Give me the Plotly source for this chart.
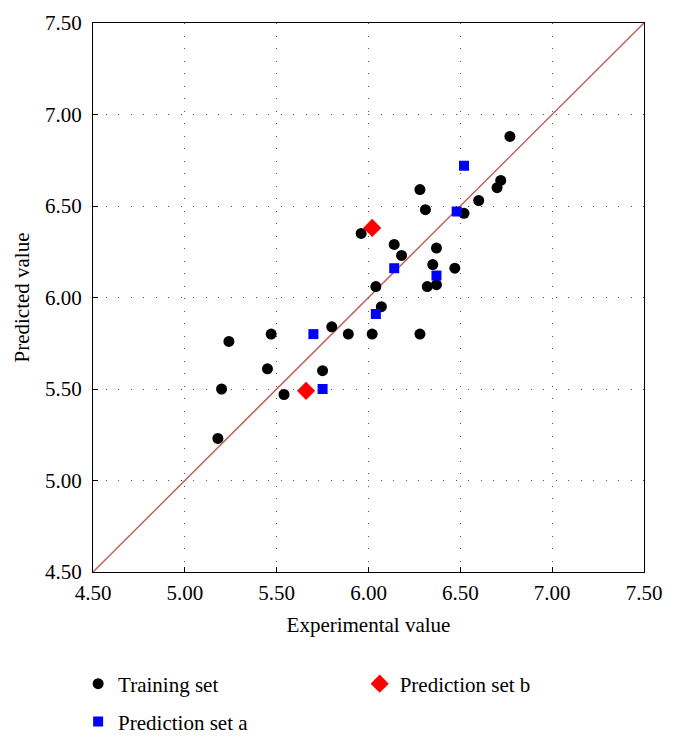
import plotly.graph_objects as go

# values
train_x = [5.18, 5.20, 5.24, 5.45, 5.47, 5.54, 5.75, 5.80, 5.89, 6.02, 6.04, 6.07, 5.96, 6.14,
           6.18, 6.28, 6.28, 6.31, 6.32, 6.35, 6.37, 6.37, 6.47, 6.52, 6.60, 6.70, 6.72, 6.77]
train_y = [5.23, 5.50, 5.76, 5.61, 5.80, 5.47, 5.60, 5.84, 5.80, 5.80, 6.06, 5.95, 6.35, 6.29,
           6.23, 5.80, 6.59, 6.48, 6.06, 6.18, 6.07, 6.27, 6.16, 6.46, 6.53, 6.60, 6.64, 6.88]

pred_a_x = [5.70, 5.75, 6.04, 6.14, 6.37, 6.48, 6.52]
pred_a_y = [5.80, 5.50, 5.91, 6.16, 6.12, 6.47, 6.72]

pred_b_x = [5.66, 6.02]
pred_b_y = [5.49, 6.38]

axis_range = [4.5, 7.5]
tick_vals = [4.5, 5.0, 5.5, 6.0, 6.5, 7.0, 7.5]
tick_text = ["4.50", "5.00", "5.50", "6.00", "6.50", "7.00", "7.50"]

serif = "Liberation Serif"

fig = go.Figure()

# y = x reference line
fig.add_trace(go.Scatter(x=axis_range, y=axis_range, mode="lines",
                         line=dict(color="#c0645a", width=1.5), showlegend=False, hoverinfo="skip"))

fig.add_trace(go.Scatter(x=train_x, y=train_y, mode="markers", name="Training set",
                         marker=dict(symbol="circle", size=11, color="black"), legend="legend"))
fig.add_trace(go.Scatter(x=pred_b_x, y=pred_b_y, mode="markers", name="Prediction set b",
                         marker=dict(symbol="diamond", size=14, color="#ff0000"), legend="legend3"))
fig.add_trace(go.Scatter(x=pred_a_x, y=pred_a_y, mode="markers", name="Prediction set a",
                         marker=dict(symbol="square", size=10, color="#0000ff"), legend="legend2"))

axis_common = dict(
    range=axis_range, tickvals=tick_vals, ticktext=tick_text,
    showgrid=True, gridcolor="#555555", griddash="1px,11.5px", gridwidth=1,
    showline=True, linecolor="black", linewidth=1.3, mirror=True,
    ticks="inside", ticklen=5, tickcolor="black",
    zeroline=False, automargin=False,
    tickfont=dict(family=serif, size=21, color="black"),
)
title_font = dict(family=serif, size=21, color="black")

fig.update_xaxes(**axis_common, ticklabelstandoff=2,
                 title=dict(text="Experimental value", font=title_font, standoff=12))
fig.update_yaxes(**axis_common, ticklabelstandoff=6,
                 title=dict(text="Predicted value", font=title_font, standoff=9))

legend_font = dict(family=serif, size=21, color="black")

# page has an 8px body margin, so the figure is sized to fit inside it
fig.update_layout(
    width=666, height=734,
    margin=dict(l=85, r=30, t=15, b=170, autoexpand=False),
    plot_bgcolor="white", paper_bgcolor="white",
    font=dict(family=serif, color="black"),
    legend=dict(orientation="h", x=-0.027, xanchor="left", y=-0.204, yanchor="middle", font=legend_font),
    legend2=dict(orientation="h", x=-0.027, xanchor="left", y=-0.273, yanchor="middle", font=legend_font),
    legend3=dict(orientation="h", x=0.484, xanchor="left", y=-0.204, yanchor="middle", font=legend_font),
)

fig.write_html("out.html")
